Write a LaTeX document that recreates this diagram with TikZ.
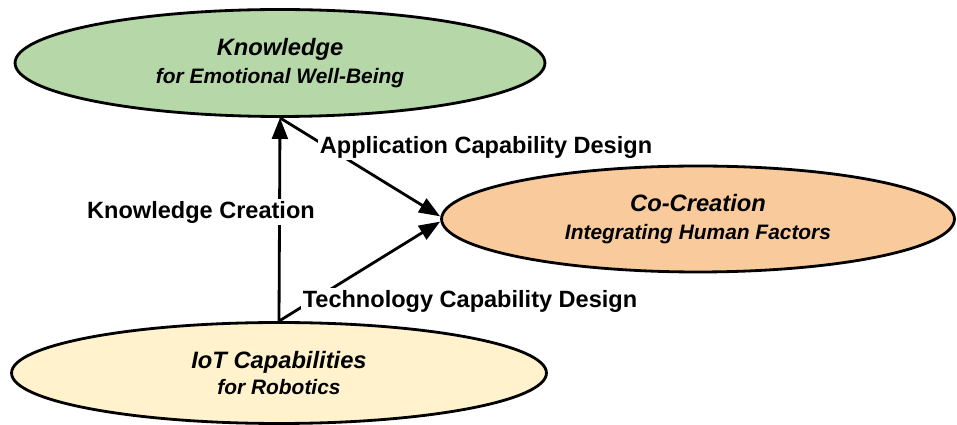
\documentclass[tikz,border=0pt]{standalone}
\usepackage{fontspec}
\setmainfont{Liberation Sans}
\usetikzlibrary{shapes.geometric,arrows.meta}

\definecolor{knowgreen}{HTML}{B6D7A8}
\definecolor{coorange}{HTML}{F9CB9C}
\definecolor{iotyellow}{HTML}{FFF2CC}

\tikzset{
  bubble/.style={ellipse, draw, line width=1.6pt, inner sep=0pt, align=center},
  flow/.style={line width=1.6pt, -{Triangle[length=12pt,width=9pt]}},
  flowlabel/.style={font=\bfseries\fontsize{13.4}{16}\selectfont, fill=white, inner sep=1pt}
}

\begin{document}
\begin{tikzpicture}[x=0.02cm, y=-0.02cm]
\useasboundingbox (0,0) rectangle (957,425);

\node [bubble, fill=knowgreen, minimum width=10.6cm, minimum height=2.14cm] (know) at (280,63)
  {{\bfseries\itshape\fontsize{13.5}{16}\selectfont Knowledge}\\[4pt]
   {\bfseries\itshape\fontsize{11.9}{14}\selectfont for Emotional Well-Being}};
\node [bubble, fill=coorange, minimum width=10.26cm, minimum height=2.12cm] (cocreate) at (698,219)
  {{\bfseries\itshape\fontsize{13.5}{16}\selectfont Co-Creation}\\[4pt]
   {\bfseries\itshape\fontsize{11.9}{14}\selectfont Integrating Human Factors}};
\node [bubble, fill=iotyellow, minimum width=10.7cm, minimum height=2.02cm] (iot) at (279,373)
  {{\bfseries\itshape\fontsize{13.5}{16}\selectfont IoT Capabilities}\\[3pt]
   {\bfseries\itshape\fontsize{11.9}{14}\selectfont for Robotics}};

\draw [flow] (iot.north) -- (know.south);
\draw [flow] (know.south) -- ([yshift=1.5pt]cocreate.west);
\draw [flow] (iot.north) -- ([yshift=-1.5pt]cocreate.west);

\node [flowlabel] (kclabel) at (201,212) {Knowledge Creation};
\node [flowlabel] (aclabel) at (486,147) {Application Capability Design};
\node [flowlabel] (tclabel) at (470,301) {Technology Capability Design};

\end{tikzpicture}
\end{document}
